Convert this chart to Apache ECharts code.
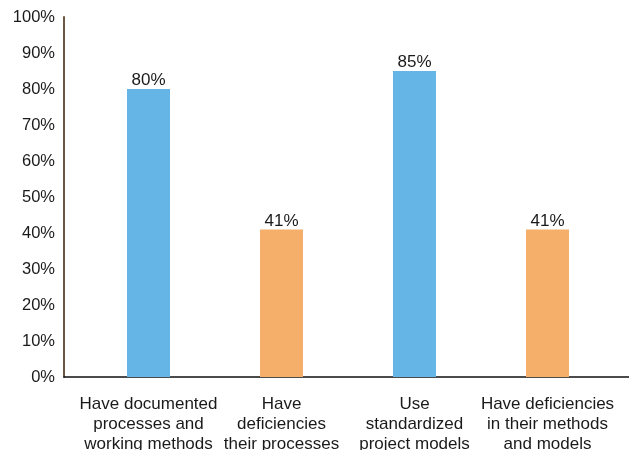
<!DOCTYPE html>
<html>
<head>
<meta charset="utf-8">
<script src="https://cdn.jsdelivr.net/npm/echarts@6/dist/echarts.min.js"></script>
<style>
  html, body { margin: 0; padding: 0; background: #fff; }
  #chart { width: 629px; height: 450px; }
</style>
</head>
<body>
<div id="chart"></div>
<script>
// Survey results: share of respondents per statement
const categories = [
  'Have documented\nprocesses and\nworking methods',
  'Have\ndeficiencies\ntheir processes',
  'Use\nstandardized\nproject models',
  'Have deficiencies\nin their methods\nand models'
];
const values = [80, 41, 85, 41];
const barColors = ['#65b5e6', '#f5af6b', '#65b5e6', '#f5af6b'];
const yTicks = [0, 10, 20, 30, 40, 50, 60, 70, 80, 90, 100];

const font = 'Liberation Sans, Arial, Helvetica, sans-serif';
const chart = echarts.init(document.getElementById('chart'), null, { renderer: 'canvas' });

chart.setOption({
  animation: false,
  grid: [
    { left: 82, right: 15, top: 17, bottom: 73, containLabel: false, outerBoundsMode: 'none' },
    // full-width frame carrying the baseline from the value axis to the right edge
    { left: 64, right: 0, top: 17, bottom: 73, containLabel: false, outerBoundsMode: 'none' }
  ],
  xAxis: [
    {
      type: 'category',
      gridIndex: 0,
      data: categories,
      axisLine: { show: false },
      axisTick: { show: false },
      axisLabel: {
        interval: 0,
        margin: 17,
        color: '#1a1a1a',
        fontFamily: font,
        fontSize: 17,
        lineHeight: 20
      }
    },
    {
      type: 'value',
      gridIndex: 1,
      min: 0,
      max: 1,
      axisLine: { show: true, lineStyle: { color: '#111', width: 1.5 } },
      axisTick: { show: false },
      axisLabel: { show: false },
      splitLine: { show: false }
    }
  ],
  yAxis: [
    {
      type: 'value',
      gridIndex: 0,
      min: yTicks[0],
      max: yTicks[yTicks.length - 1],
      interval: 10,
      offset: 18,
      axisLine: { show: true, lineStyle: { color: '#6b5744', width: 2 } },
      axisTick: { show: false },
      splitLine: { show: false },
      axisLabel: {
        margin: 9,
        color: '#1a1a1a',
        fontFamily: font,
        fontSize: 16.5,
        formatter: v => v + '%'
      }
    },
    {
      type: 'value',
      gridIndex: 1,
      min: 0,
      max: 1,
      show: false
    }
  ],
  series: [
    {
      type: 'bar',
      xAxisIndex: 0,
      yAxisIndex: 0,
      barWidth: 43,
      data: values.map((v, i) => ({ value: v, itemStyle: { color: barColors[i] } })),
      label: {
        show: true,
        position: 'top',
        distance: 0,
        color: '#1a1a1a',
        fontFamily: font,
        fontSize: 17,
        formatter: p => p.value + '%'
      }
    }
  ]
});
</script>
</body>
</html>
